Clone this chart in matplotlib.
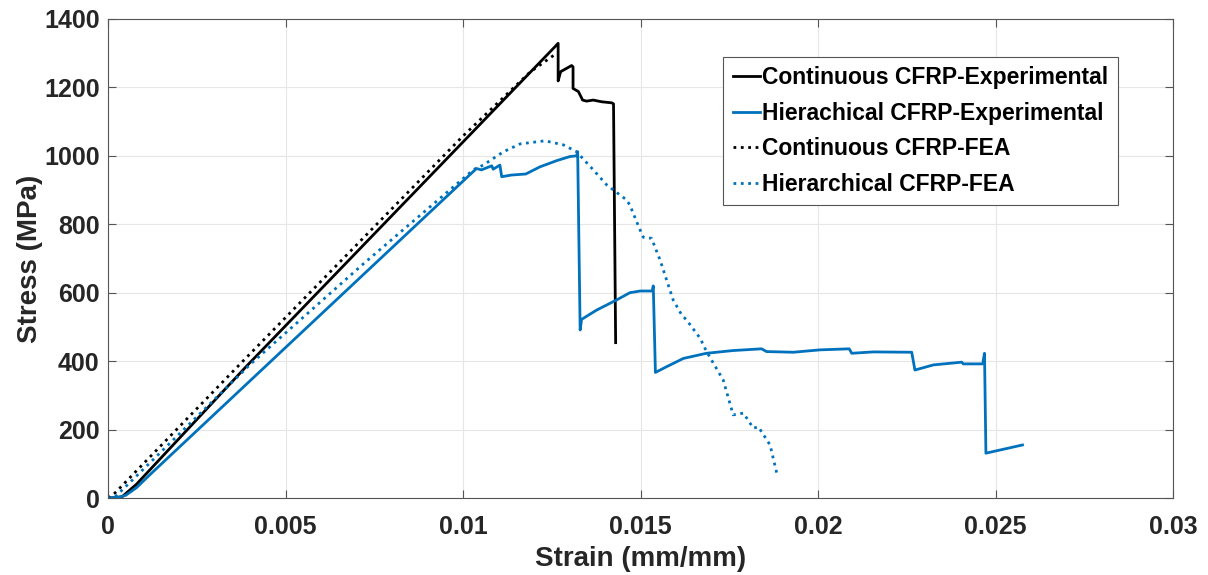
import matplotlib.pyplot as plt
import numpy as np

# Continuous CFRP - experimental
cont_exp_strain = [0, 0.0002, 0.0004, 0.0008, 0.0039, 0.0126, 0.01268, 0.01268,
                   0.01275, 0.01306, 0.0131, 0.0131, 0.01325, 0.01337, 0.01348, 0.01367,
                   0.01391, 0.01419, 0.01424, 0.01430]
cont_exp_stress = [0, 1, 4, 40, 385, 1320, 1329, 1219,
                   1246, 1264, 1260, 1197, 1188, 1163, 1160, 1163,
                   1158, 1155, 1152, 454]

# Hierarchical CFRP - experimental
hier_exp_strain = [0, 0.0003, 0.0005, 0.0008, 0.0012, 0.01038,
                   0.01052, 0.01081, 0.01085, 0.01104, 0.01109, 0.01137, 0.01177, 0.01217,
                   0.01264, 0.01301, 0.0132, 0.01323, 0.0133, 0.01334, 0.01376, 0.01433,
                   0.0147, 0.01499, 0.01533, 0.01536, 0.01542, 0.01574, 0.01621, 0.01686,
                   0.01761, 0.01841, 0.01855, 0.0193, 0.02006, 0.02088, 0.02095, 0.02156,
                   0.02264, 0.02273, 0.02325, 0.02405, 0.02409, 0.02464, 0.02469, 0.02473,
                   0.02576]
hier_exp_stress = [0, 2, 8, 30, 70, 963,
                   959, 971, 961, 973, 939, 944, 947, 968,
                   986, 998, 1000, 1012, 491, 522, 549, 579,
                   600, 605, 605, 620, 367, 384, 408, 423,
                   431, 436, 428, 426, 433, 436, 423, 427,
                   426, 374, 389, 397, 392, 392, 423, 131,
                   155]

# Continuous CFRP - FEA
cont_fea_strain = [0, 0.0002, 0.0038, 0.0100, 0.01189, 0.01264]
cont_fea_stress = [0, 15, 400, 1058, 1245, 1300]

# Hierarchical CFRP - FEA
hier_fea_strain = [0, 0.0002, 0.0040, 0.0072, 0.0103, 0.01057, 0.01114, 0.01161,
                   0.01231, 0.01283, 0.0132, 0.01367, 0.01405, 0.01424, 0.01461, 0.0147,
                   0.01499, 0.01508, 0.01531, 0.01555, 0.01592, 0.01616, 0.0163, 0.01668,
                   0.01686, 0.01733, 0.01761, 0.0179, 0.01818, 0.01832, 0.01865, 0.01884]
hier_fea_stress = [0, 3, 390, 685, 960, 973, 1012, 1035,
                   1044, 1032, 1012, 959, 915, 900, 871, 856,
                   783, 762, 759, 696, 579, 535, 520, 467,
                   428, 345, 243, 248, 204, 208, 155, 72]

blue = '#0072BD'
dark = '#262626'

plt.rcParams['font.family'] = ['Liberation Sans', 'DejaVu Sans']
plt.rcParams['font.weight'] = 'bold'

fig = plt.figure(figsize=(12.08, 5.75), dpi=100)
ax = fig.add_axes([108 / 1208, 77 / 575, 1065 / 1208, 479 / 575])

ax.plot(cont_exp_strain, cont_exp_stress, '-', color='black', lw=2,
        label='Continuous CFRP-Experimental')
ax.plot(hier_exp_strain, hier_exp_stress, '-', color=blue, lw=2,
        label='Hierachical CFRP-Experimental')
ax.plot(cont_fea_strain, cont_fea_stress, ':', color='black', lw=2,
        label='Continuous CFRP-FEA')
ax.plot(hier_fea_strain, hier_fea_stress, ':', color=blue, lw=2,
        label='Hierarchical CFRP-FEA')

ax.set_xlim(0, 0.03)
ax.set_ylim(0, 1400)
ax.set_xticks([0, 0.005, 0.01, 0.015, 0.02, 0.025, 0.03])
ax.set_xticklabels(['0', '0.005', '0.01', '0.015', '0.02', '0.025', '0.03'])
ax.set_yticks(np.arange(0, 1401, 200))
ax.grid(True, color='#e6e6e6', lw=0.8)
ax.set_axisbelow(True)
ax.tick_params(direction='in', labelsize=18, length=6, color='#555555', top=True, right=True,
               labeltop=False, labelright=False)
ax.tick_params(axis='x', pad=12)
ax.tick_params(axis='y', pad=6)
for lbl in ax.get_xticklabels() + ax.get_yticklabels():
    lbl.set_fontweight('bold')
    lbl.set_color(dark)
for s in ax.spines.values():
    s.set_color('#555555')
    s.set_linewidth(0.8)

ax.set_xlabel('Strain (mm/mm)', fontsize=20, fontweight='bold', color=dark, labelpad=5)
ax.set_ylabel('Stress (MPa)', fontsize=20, fontweight='bold', color=dark, labelpad=1)

leg = ax.legend(loc='upper right', bbox_to_anchor=(0.948, 0.921), borderaxespad=0,
                fontsize=16.5, frameon=True, fancybox=False, edgecolor='#555555',
                framealpha=1, handlelength=1.2, handletextpad=0.1, borderpad=0.4,
                labelspacing=0.55)
for t in leg.get_texts():
    t.set_fontweight('bold')
leg.get_frame().set_linewidth(0.8)

fig.savefig('out.png', dpi=100)
